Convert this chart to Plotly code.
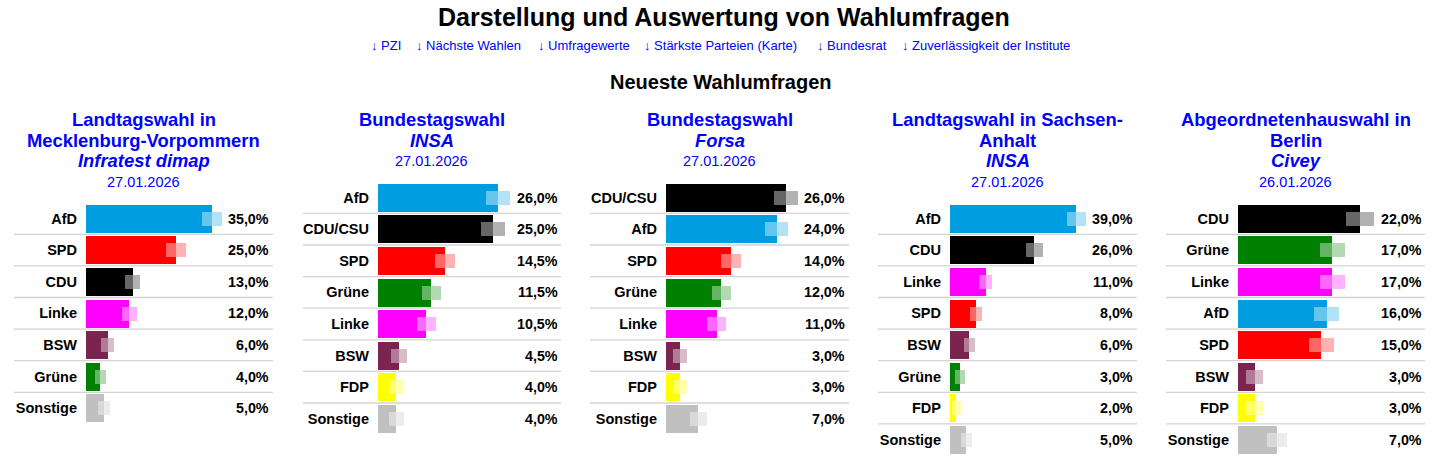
import plotly.graph_objects as go

# ---------------- data ----------------
titel = "Darstellung und Auswertung von Wahlumfragen"
links = ["↓ PZI", "↓ Nächste Wahlen", "↓ Umfragewerte",
         "↓ Stärkste Parteien (Karte)", "↓ Bundesrat",
         "↓ Zuverlässigkeit der Institute"]
untertitel = "Neueste Wahlumfragen"

wahlen = [["Landtagswahl in", "Mecklenburg-Vorpommern"],
          ["Bundestagswahl"],
          ["Bundestagswahl"],
          ["Landtagswahl in Sachsen-", "Anhalt"],
          ["Abgeordnetenhauswahl in", "Berlin"]]
institute = ["Infratest dimap", "INSA", "Forsa", "INSA", "Civey"]
daten = ["27.01.2026", "27.01.2026", "27.01.2026", "27.01.2026", "26.01.2026"]

parteien_mv = ["AfD", "SPD", "CDU", "Linke", "BSW", "Grüne", "Sonstige"]
werte_mv = [35.0, 25.0, 13.0, 12.0, 6.0, 4.0, 5.0]
fehler_mv = [2.9, 2.65, 2.1, 2.1, 1.8, 1.5, 1.7]

parteien_insa = ["AfD", "CDU/CSU", "SPD", "Grüne", "Linke", "BSW", "FDP", "Sonstige"]
werte_insa = [26.0, 25.0, 14.5, 11.5, 10.5, 4.5, 4.0, 4.0]
fehler_insa = [2.6, 2.6, 2.15, 2.05, 2.05, 1.73, 1.6, 1.6]

parteien_forsa = ["CDU/CSU", "AfD", "SPD", "Grüne", "Linke", "BSW", "FDP", "Sonstige"]
werte_forsa = [26.0, 24.0, 14.0, 12.0, 11.0, 3.0, 3.0, 7.0]
fehler_forsa = [2.6, 2.5, 2.15, 2.05, 2.05, 1.5, 1.5, 1.84]

parteien_st = ["AfD", "CDU", "Linke", "SPD", "BSW", "Grüne", "FDP", "Sonstige"]
werte_st = [39.0, 26.0, 11.0, 8.0, 6.0, 3.0, 2.0, 5.0]
fehler_st = [2.94, 2.63, 2.0, 1.86, 1.7, 1.55, 1.4, 1.7]

parteien_be = ["CDU", "Grüne", "Linke", "AfD", "SPD", "BSW", "FDP", "Sonstige"]
werte_be = [22.0, 17.0, 17.0, 16.0, 15.0, 3.0, 3.0, 7.0]
fehler_be = [2.5, 2.25, 2.25, 2.25, 2.25, 1.53, 1.53, 1.8]

umfragen = [(parteien_mv, werte_mv, fehler_mv),
            (parteien_insa, werte_insa, fehler_insa),
            (parteien_forsa, werte_forsa, fehler_forsa),
            (parteien_st, werte_st, fehler_st),
            (parteien_be, werte_be, fehler_be)]

# ---------------- styles ----------------
farben = {"AfD": "#009EE0", "SPD": "#FF0000", "CDU": "#000000", "CDU/CSU": "#000000",
          "Linke": "#FF00FF", "BSW": "#7B2450", "Grüne": "#008000",
          "FDP": "#FFFF00", "Sonstige": "#C0C0C0"}


def rgba(h, a):
    h = h.lstrip("#")
    return "rgba(%d,%d,%d,%s)" % (int(h[0:2], 16), int(h[2:4], 16), int(h[4:6], 16), a)


W, H = 1447, 463
FONT = "Liberation Sans, Arial, sans-serif"
BLUE = "#0000FF"

bar_left = [86, 378, 666, 950, 1238]
val_right = [270.5, 559.5, 847, 1135, 1423.5]
sep_left = [14, 303, 590, 878, 1166]
sep_right = [273, 561, 849, 1137, 1425]
max_bar_px = [126, 120, 120, 126, 122]
rows_top = [202.7, 181.8, 181.8, 202.7, 202.7]
ROW_H = 31.6
LINE_H = 20.5
TITLE_Y0 = 120

fig = go.Figure()
annotations = []
shapes = []
layout_axes = {}

for i, (parteien, werte, fehler) in enumerate(umfragen):
    k = i + 1
    xa = "x" if k == 1 else "x%d" % k
    ya = "y" if k == 1 else "y%d" % k
    n = len(parteien)
    farb = [farben[p] for p in parteien]

    fig.add_trace(go.Bar(y=parteien, x=werte, orientation="h", width=0.886,
                         marker=dict(color=farb, line=dict(width=0)),
                         xaxis=xa, yaxis=ya, showlegend=False, hoverinfo="skip"))
    fig.add_trace(go.Bar(y=parteien, x=fehler,
                         base=[w - f for w, f in zip(werte, fehler)],
                         orientation="h", width=0.443,
                         marker=dict(color="rgba(255,255,255,0.4)", line=dict(width=0)),
                         xaxis=xa, yaxis=ya, showlegend=False, hoverinfo="skip"))
    fig.add_trace(go.Bar(y=parteien, x=fehler, base=werte,
                         orientation="h", width=0.443,
                         marker=dict(color=[rgba(c, 0.3) for c in farb], line=dict(width=0)),
                         xaxis=xa, yaxis=ya, showlegend=False, hoverinfo="skip"))

    x0 = bar_left[i] / W
    x1 = val_right[i] / W
    rng = max(werte) * (val_right[i] - bar_left[i]) / max_bar_px[i]
    top = rows_top[i]
    bottom = top + n * ROW_H
    layout_axes["xaxis" + ("" if k == 1 else str(k))] = dict(
        domain=[x0, x1], range=[0, rng], visible=False, anchor=ya, fixedrange=True)
    layout_axes["yaxis" + ("" if k == 1 else str(k))] = dict(
        domain=[1 - bottom / H, 1 - top / H], anchor=xa, type="category",
        range=[n - 0.5, -0.5], showgrid=False, zeroline=False, showline=False,
        ticks="", ticklabelstandoff=8, fixedrange=True,
        tickfont=dict(family=FONT, size=14.5, color="#000000", weight="bold"))

    # separators
    for r in range(n - 1):
        shapes.append(dict(type="line", xref="paper", yref=ya,
                           x0=sep_left[i] / W, x1=sep_right[i] / W,
                           y0=r + 0.5, y1=r + 0.5,
                           line=dict(color="#D3D3D3", width=1.3)))

    # values
    for p, w in zip(parteien, werte):
        annotations.append(dict(text=("%.1f" % w).replace(".", ",") + "%",
                                xref=xa + " domain", x=1, xanchor="right",
                                yref=ya, y=p, yanchor="middle", showarrow=False,
                                font=dict(family=FONT, size=14.3, color="#000000", weight="bold")))

    # panel title
    cx = (sep_left[i] + sep_right[i]) / 2 / W
    zeilen = [(z, "bold", "normal", 18.4) for z in wahlen[i]]
    zeilen.append((institute[i], "bold", "italic", 18.4))
    zeilen.append((daten[i], "normal", "normal", 14.5))
    for j, (txt, wt, st, sz) in enumerate(zeilen):
        annotations.append(dict(text=txt, xref="paper", x=cx, xanchor="center",
                                yref="paper", y=1 - (TITLE_Y0 + j * LINE_H) / H,
                                yanchor="middle", showarrow=False,
                                font=dict(family=FONT, size=sz, color=BLUE, weight=wt, style=st)))

# page header
annotations.append(dict(text=titel, xref="paper", x=723.5 / W, xanchor="center",
                        yref="paper", y=1 - 17 / H, yanchor="middle", showarrow=False,
                        font=dict(family=FONT, size=25, color="#000000", weight="bold")))
link_x = [369, 413.5, 535.7, 642, 815, 900]
for lx, t in zip(link_x, links):
    annotations.append(dict(text=t, xref="paper", x=lx / W, xanchor="left",
                            yref="paper", y=1 - 45 / H, yanchor="middle", showarrow=False,
                            font=dict(family=FONT, size=13, color=BLUE)))
annotations.append(dict(text=untertitel, xref="paper", x=721 / W, xanchor="center",
                        yref="paper", y=1 - 82 / H, yanchor="middle", showarrow=False,
                        font=dict(family=FONT, size=20, color="#000000", weight="bold")))

fig.update_layout(width=W, height=H, autosize=False,
                  margin=dict(l=0, r=0, t=0, b=0, pad=0),
                  paper_bgcolor="white", plot_bgcolor="white",
                  barmode="overlay", bargap=0,
                  annotations=annotations, shapes=shapes,
                  font=dict(family=FONT), **layout_axes)

fig.write_html("out.html", config={"displayModeBar": False},
               post_script="document.body.style.margin='0px';")
